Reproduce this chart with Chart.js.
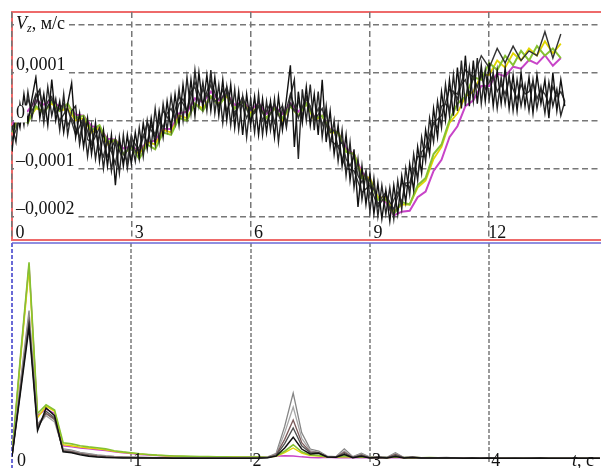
<!DOCTYPE html>
<html>
<head>
<meta charset="utf-8">
<title>Vz</title>
<style>
  html, body { margin: 0; padding: 0; background: #fff; }
  #wrap { position: relative; width: 601px; height: 468px; overflow: hidden; }
  #wrap canvas { position: absolute; left: 0; }
  #chart-speed { top: 0; }
  #chart-spectrum { top: 240px; }
</style>
</head>
<body>
<div id="wrap">
  <canvas id="chart-speed" width="601" height="244"></canvas>
  <canvas id="chart-spectrum" width="601" height="228"></canvas>
</div>

<script src="https://cdn.jsdelivr.net/npm/chart.js@4"></script>
<script>
  // upper panel: Vz records, values in units of 1e-4 m/s
  const FINE_STEP = 0.1;   // s
  const COARSE_STEP = 0.2; // s

  const black1 = [
    -0.65, 0.20, -0.15, 0.55, -0.05, 0.45, 0.90, 0.05, 0.55, -0.10,
    0.85, 0.00, 0.40, -0.25, 0.35, 0.78, -0.35, 0.15, -0.55, 0.05,
    -0.70, -0.05, -0.85, -0.20, -0.95, -0.30, -1.35, -0.35, -0.95, -0.30,
    -0.90, -0.25, -0.80, -0.05, -0.60, 0.05, -0.50, 0.20, -0.35, 0.40,
    -0.20, 0.55, -0.10, 0.75, 0.05, 0.85, 0.10, 1.00, 0.25, 0.95,
    0.20, 0.90, 0.10, 0.85, 0.00, 0.75, -0.15, 0.60, -0.30, 0.55,
    -0.10, 0.50, -0.30, 0.45, -0.25, 0.40, -0.35, 0.50, -0.20, 0.45,
    1.15, -0.55, 0.60, -0.05, 0.70, -0.10, 0.55, -0.30, 0.85, -0.45,
    0.20, -0.70, -0.10, -0.95, -0.30, -1.25, -0.60, -1.80, -0.95, -1.75,
    -1.10, -1.95, -1.30, -2.05, -1.45, -2.10, -1.35, -1.95, -1.15, -1.70,
    -0.90, -1.45, -0.55, -1.10, -0.20, -0.70, 0.25, -0.35, 0.60, 0.00,
    0.85, 0.10, 1.10, 0.25, 1.35, 0.30, 1.25, 0.35, 1.15, 0.40,
    1.20, 0.30, 1.05, 0.35, 1.10, 0.25, 0.95, 0.20, 1.00, 0.30,
    0.90, 0.15, 0.95, 0.35, 0.85, 0.05, 1.00, 0.20, 0.85, 0.30,
  ];
  const black2 = [
    -0.10, -0.45, 0.35, -0.10, 0.60, 0.05, 0.50, 0.65, -0.05, 0.70,
    0.10, 0.45, -0.20, 0.55, -0.30, 0.20, 0.30, -0.50, 0.00, -0.75,
    -0.10, -0.80, -0.25, -1.00, -0.35, -1.05, -0.40, -1.10, -0.30, -1.00,
    -0.45, -0.85, -0.15, -0.75, 0.00, -0.55, 0.25, -0.45, 0.35, -0.20,
    0.50, -0.05, 0.65, 0.00, 0.90, 0.15, 1.05, 0.30, 0.80, 0.20,
    1.05, 0.15, 0.75, -0.05, 0.70, -0.10, 0.65, -0.20, 0.50, -0.35,
    0.45, -0.25, 0.55, -0.30, 0.40, -0.20, 0.45, -0.45, 0.30, -0.15,
    0.50, 0.85, -0.80, 0.65, 0.00, 0.75, -0.20, 0.60, -0.35, 0.30,
    -0.55, 0.00, -0.85, -0.20, -1.15, -0.45, -1.40, -0.80, -1.65, -1.10,
    -1.90, -1.20, -2.00, -1.35, -1.95, -1.40, -2.05, -1.25, -1.85, -1.00,
    -1.55, -0.70, -1.25, -0.35, -0.85, 0.05, -0.45, 0.40, -0.15, 0.75,
    0.10, 0.95, 0.20, 1.25, 0.30, 1.10, 0.40, 1.30, 0.35, 1.05,
    0.45, 1.00, 0.25, 0.90, 0.35, 0.95, 0.20, 0.85, 0.30, 0.75,
    0.20, 0.85, 0.25, 0.70, 0.15, 0.80, 0.30, 0.65, 0.10, 0.40,
  ];
  const black3 = [
    -0.40, -0.20, 0.30, 0.10, 0.45, 0.20, 0.35, 0.60, 0.15, 0.40,
    0.50, 0.15, 0.25, 0.35, -0.10, 0.05, -0.15, -0.35, 0.05, -0.40,
    -0.45, -0.20, -0.60, -0.75, -0.40, -0.65, -0.90, -0.45, -0.70, -0.85,
    -0.30, -0.65, -0.55, -0.30, -0.45, -0.10, -0.30, 0.05, -0.15, 0.15,
    0.25, 0.05, 0.35, 0.45, 0.20, 0.60, 0.70, 0.35, 0.65, 0.50,
    0.75, 0.40, 0.45, 0.65, 0.20, 0.40, 0.15, 0.35, 0.30, 0.05,
    0.25, 0.15, 0.30, 0.00, 0.20, 0.35, -0.05, 0.20, 0.30, -0.05,
    0.35, 0.20, 0.40, 0.10, 0.45, 0.30, 0.05, 0.25, -0.10, 0.15,
    -0.25, -0.20, -0.55, -0.45, -0.80, -0.95, -0.75, -1.15, -1.30, -1.05,
    -1.55, -1.40, -1.75, -1.60, -1.50, -1.85, -1.65, -1.50, -1.70, -1.30,
    -1.30, -1.00, -1.15, -0.65, -0.55, -0.30, -0.05, -0.15, 0.30, 0.35,
    0.25, 0.60, 0.45, 0.75, 0.85, 0.55, 0.90, 0.70, 0.95, 0.65,
    0.80, 0.95, 0.60, 0.75, 0.55, 0.85, 0.65, 0.45, 0.75, 0.55,
    0.60, 0.80, 0.45, 0.65, 0.55, 0.35, 0.70, 0.50, 0.60, 0.40,
  ];
  const upper = [
    -0.20, 0.30, 0.05, 0.55, 0.15, 0.45, 0.00, 0.25, -0.30, 0.05,
    -0.50, -0.15, -0.75, -0.40, -0.85, -0.35, -0.65, -0.05, -0.35, 0.20,
    -0.05, 0.50, 0.20, 0.80, 0.35, 0.85, 0.30, 0.70, 0.10, 0.50,
    0.00, 0.40, -0.05, 0.35, -0.10, 0.55, 0.05, 0.50, 0.00, 0.25,
    -0.40, -0.55, -1.00, -1.05, -1.50, -1.35, -1.80, -1.55, -1.85, -1.30,
    -1.40, -0.75, -0.75, -0.05, 0.10, 0.65, 0.55, 1.05, 0.90, 1.35,
    1.10, 1.50, 1.20, 1.55, 1.25, 1.45, 1.35, 1.85, 1.30, 1.80,
  ];
  const green = [
    -0.25, 0.05, -0.05, 0.30, 0.15, 0.40, 0.20, 0.35, 0.05, 0.10,
    -0.20, -0.10, -0.45, -0.40, -0.70, -0.55, -0.80, -0.50, -0.60, -0.25,
    -0.30, 0.05, 0.00, 0.35, 0.20, 0.50, 0.30, 0.55, 0.25, 0.40,
    0.10, 0.30, 0.05, 0.25, 0.05, 0.30, 0.10, 0.35, 0.05, 0.10,
    -0.20, -0.25, -0.65, -0.70, -1.20, -1.25, -1.65, -1.65, -1.95, -1.70,
    -1.75, -1.35, -1.20, -0.70, -0.50, 0.00, 0.35, 0.50, 0.90, 0.85,
    1.20, 1.05, 1.35, 1.15, 1.45, 1.25, 1.55, 1.35, 1.50, 1.30,
  ];
  const yellow = [
    -0.15, 0.05, 0.00, 0.25, 0.20, 0.35, 0.20, 0.25, 0.00, 0.05,
    -0.25, -0.15, -0.50, -0.40, -0.70, -0.55, -0.70, -0.45, -0.50, -0.20,
    -0.25, 0.10, 0.05, 0.35, 0.25, 0.50, 0.35, 0.50, 0.25, 0.40,
    0.15, 0.30, 0.05, 0.25, 0.00, 0.30, 0.10, 0.35, 0.00, 0.10,
    -0.25, -0.25, -0.65, -0.70, -1.15, -1.20, -1.60, -1.60, -1.90, -1.75,
    -1.75, -1.40, -1.25, -0.80, -0.55, -0.05, 0.15, 0.50, 0.60, 0.95,
    0.95, 1.25, 1.10, 1.40, 1.25, 1.50, 1.35, 1.65, 1.40, 1.60,
  ];
  const magenta = [
    -0.10, 0.15, 0.20, 0.42, 0.33, 0.42, 0.28, 0.32, 0.12, 0.10,
    -0.12, -0.15, -0.38, -0.40, -0.58, -0.55, -0.62, -0.45, -0.42, -0.18,
    -0.18, 0.15, 0.18, 0.46, 0.38, 0.60, 0.42, 0.56, 0.32, 0.40,
    0.22, 0.36, 0.14, 0.30, 0.14, 0.36, 0.18, 0.36, 0.08, 0.10,
    -0.18, -0.25, -0.58, -0.70, -1.08, -1.25, -1.62, -1.70, -1.98, -1.90,
    -1.88, -1.60, -1.48, -1.05, -0.82, -0.35, -0.12, 0.30, 0.42, 0.72,
    0.72, 0.98, 0.92, 1.12, 1.08, 1.26, 1.18, 1.36, 1.14, 1.30,
  ];

  const timeTicks = [0, 3, 6, 9, 12];
  const speedTicks = [1, 0, -1, -2];
  const speedTickLabels = ['0,0001', '0', '–0,0001', '–0,0002'];
  const speedTitleAt = 2;

  // lower panel: amplitude spectra, bin width 1/14
  const FREQ_STEP = 1 / 14;

  const specBlack = [
    1, 31, 61, 13, 23.5, 20, 3.2, 2.8, 1.8, 1.2,
    0.8, 0.6, 0.5, 0.4, 0.4, 0.3, 0.3, 0.3, 0.3, 0.2,
    0.2, 0.2, 0.2, 0.2, 0.2, 0.2, 0.2, 0.2, 0.2, 0.3,
    0.5, 1.2, 5, 10, 4.5, 2.2, 2.5, 0.8, 0.7, 2,
    0.5, 1.2, 0.4, 0.6, 0.4, 1, 0.4, 0.6, 0.3, 0.3,
    0.3, 0.4, 0.3, 0.2, 0.3, 0.2, 0.3, 0.2, 0.2, 0.2,
    0.2, 0.2, 0.3, 0.2, 0.2, 0.2, 0.2, 0.2, 0.2, 0.2,
  ];
  const specDark = [
    1, 32, 63, 14, 22, 19, 3.5, 3, 2.1, 1.5,
    1, 0.8, 0.6, 0.5, 0.5, 0.4, 0.4, 0.3, 0.3, 0.3,
    0.3, 0.3, 0.2, 0.2, 0.2, 0.2, 0.2, 0.2, 0.2, 0.3,
    0.5, 1.5, 7, 14.3, 6, 2.8, 2.6, 0.8, 0.7, 2.5,
    0.6, 1.5, 0.4, 0.6, 0.4, 1.6, 0.4, 0.6, 0.3, 0.3,
    0.3, 0.4, 0.3, 0.3, 0.3, 0.3, 0.3, 0.2, 0.2, 0.3,
    0.2, 0.3, 0.2, 0.2, 0.2, 0.2, 0.2, 0.2, 0.2, 0.2,
  ];
  const specBrown = [
    1, 33, 64, 15, 21, 18.5, 3.8, 3.3, 2.4, 1.8,
    1.3, 1, 0.8, 0.7, 0.6, 0.5, 0.5, 0.4, 0.4, 0.3,
    0.3, 0.3, 0.3, 0.3, 0.3, 0.3, 0.3, 0.3, 0.3, 0.4,
    0.6, 1.8, 9, 18, 7.5, 3.2, 2.8, 0.9, 0.8, 3,
    0.7, 1.8, 0.5, 0.7, 0.5, 2, 0.5, 0.7, 0.4, 0.4,
    0.4, 0.4, 0.3, 0.4, 0.3, 0.3, 0.3, 0.3, 0.3, 0.3,
    0.3, 0.3, 0.3, 0.3, 0.3, 0.3, 0.3, 0.3, 0.3, 0.3,
  ];
  const specLight = [
    1.1, 34, 65.4, 15, 20, 17, 4.2, 3.6, 2.7, 2.1,
    1.6, 1.2, 1, 0.8, 0.7, 0.6, 0.5, 0.5, 0.4, 0.4,
    0.4, 0.4, 0.4, 0.3, 0.3, 0.3, 0.3, 0.3, 0.3, 0.4,
    0.7, 2, 12, 24, 9.5, 3.8, 3, 1, 0.9, 3.6,
    0.8, 2.2, 0.6, 0.8, 0.6, 2.4, 0.5, 0.8, 0.4, 0.4,
    0.4, 0.5, 0.4, 0.4, 0.3, 0.4, 0.4, 0.3, 0.3, 0.3,
    0.3, 0.3, 0.3, 0.3, 0.3, 0.3, 0.3, 0.3, 0.3, 0.3,
  ];
  const specGray = [
    1.2, 36, 68.7, 16, 21, 18, 4.6, 4, 3, 2.4,
    1.8, 1.4, 1.1, 0.9, 0.8, 0.7, 0.6, 0.5, 0.5, 0.4,
    0.4, 0.4, 0.4, 0.4, 0.4, 0.4, 0.4, 0.4, 0.4, 0.5,
    0.8, 2.5, 15, 30.4, 12, 4.5, 3.5, 1.2, 1, 4.6,
    1, 2.6, 0.8, 1, 0.7, 2.8, 0.6, 1, 0.5, 0.5,
    0.5, 0.6, 0.4, 0.5, 0.4, 0.4, 0.5, 0.4, 0.3, 0.4,
    0.3, 0.4, 0.3, 0.3, 0.3, 0.3, 0.3, 0.3, 0.3, 0.3,
  ];
  const specGreen = [
    2, 48, 91, 21, 25, 22.6, 7.4, 6.9, 6, 5.5,
    5.1, 4.6, 3.7, 3.2, 2.8, 2.3, 2, 1.7, 1.5, 1.3,
    1.2, 1.1, 1, 1, 0.9, 0.9, 0.8, 0.8, 0.8, 0.8,
    0.9, 1.3, 3.5, 6.5, 3.2, 1.8, 1.5, 0.9, 0.8, 1.2,
    0.8, 1, 0.7, 0.8, 0.6, 1, 0.6, 0.7, 0.5, 0.6,
    0.5, 0.5, 0.4, 0.5, 0.4, 0.4, 0.4, 0.5, 0.4, 0.3,
    0.4, 0.3, 0.3, 0.4, 0.3, 0.3, 0.3, 0.3, 0.3, 0.3,
  ];
  const specYellow = [
    1.5, 46, 88, 19, 24.4, 22, 6.5, 6, 5.4, 5,
    4.6, 4.2, 3.4, 3, 2.6, 2.2, 1.9, 1.6, 1.4, 1.2,
    1.1, 1, 0.9, 0.9, 0.8, 0.8, 0.8, 0.7, 0.7, 0.7,
    0.8, 1.1, 2.8, 5, 2.6, 1.5, 1.3, 0.8, 0.7, 1,
    0.7, 0.9, 0.6, 0.7, 0.5, 0.9, 0.5, 0.6, 0.5, 0.5,
    0.4, 0.5, 0.4, 0.4, 0.4, 0.3, 0.4, 0.4, 0.3, 0.3,
    0.3, 0.3, 0.3, 0.3, 0.3, 0.3, 0.2, 0.3, 0.2, 0.2,
  ];
  const specMagenta = [
    2, 47, 90, 20, 23, 21, 6, 5.5, 5, 4.6,
    4.2, 3.8, 3.2, 2.8, 2.4, 2, 1.7, 1.5, 1.3, 1.2,
    1, 1, 0.9, 0.8, 0.8, 0.8, 0.7, 0.7, 0.7, 0.8,
    1, 1.2, 1.4, 1.3, 0.9, 0.6, 0.5, 0.7, 0.5, 0.6,
    0.4, 0.5, 0.4, 0.5, 0.4, 0.6, 0.4, 0.4, 0.3, 0.4,
    0.3, 0.3, 0.3, 0.3, 0.3, 0.3, 0.3, 0.3, 0.2, 0.3,
    0.2, 0.2, 0.2, 0.3, 0.2, 0.2, 0.2, 0.2, 0.2, 0.2,
  ];

  const spectrumTicks = [0, 1, 2, 3, 4];

  const SERIF = '"Liberation Serif", "Times New Roman", serif';
  const RED = '#ee6a6a';
  const BLUE = '#6a6ad6';

  const toPoints = (values, step) => values.map((v, i) => ({ x: i * step, y: v }));

  const line = (values, step, color, width) => ({
    data: toPoints(values, step),
    borderColor: color,
    borderWidth: width,
    pointRadius: 0,
    tension: 0,
  });

  // no tick labels and no tick marks, so the axes take no room
  const hiddenTicks = { display: false, includeBounds: false };

  // red frame sits under the dashed grid, labels go over the traces
  const speedFrame = {
    id: 'speedFrame',
    beforeDraw(chart) {
      const { ctx, chartArea: a } = chart;
      ctx.save();
      ctx.strokeStyle = RED;
      ctx.lineWidth = 2;
      ctx.beginPath();
      ctx.moveTo(chart.width, a.top);
      ctx.lineTo(a.left, a.top);
      ctx.lineTo(a.left, a.bottom);
      ctx.lineTo(chart.width, a.bottom);
      ctx.stroke();
      ctx.restore();
    },
    afterDatasetsDraw(chart) {
      const { ctx, chartArea: a, scales } = chart;
      ctx.save();
      ctx.font = `18px ${SERIF}`;
      ctx.textBaseline = 'alphabetic';

      speedTicks.forEach((v, i) => {
        const text = speedTickLabels[i];
        const y = scales.y.getPixelForValue(v) - 2;
        const w = ctx.measureText(text).width;
        ctx.fillStyle = '#fff';
        ctx.fillRect(a.left + 2, y - 13, w + 4, 17);
        ctx.fillStyle = '#111';
        ctx.fillText(text, a.left + 4, y);
      });

      // V_z, м/с
      const ty = scales.y.getPixelForValue(speedTitleAt) + 5;
      let x = a.left + 4;
      ctx.fillStyle = '#fff';
      ctx.fillRect(a.left + 2, ty - 14, 54, 20);
      ctx.fillStyle = '#111';
      ctx.font = `italic 18px ${SERIF}`;
      ctx.fillText('V', x, ty);
      x += ctx.measureText('V').width;
      ctx.font = `italic 12px ${SERIF}`;
      ctx.fillText('z', x, ty + 3);
      x += ctx.measureText('z').width;
      ctx.font = `18px ${SERIF}`;
      ctx.fillText(', м/с', x, ty);

      ctx.textAlign = 'center';
      timeTicks.forEach((t) => {
        ctx.fillText(String(t), scales.x.getPixelForValue(t) + 8, a.bottom - 2);
      });
      ctx.restore();
    },
  };

  const spectrumFrame = {
    id: 'spectrumFrame',
    beforeDatasetsDraw(chart) {
      const { ctx, chartArea: a } = chart;
      ctx.save();
      ctx.strokeStyle = BLUE;
      ctx.lineWidth = 1.5;
      ctx.beginPath();
      ctx.moveTo(a.left, a.top);
      ctx.lineTo(chart.width, a.top);
      ctx.stroke();
      ctx.setLineDash([4, 2]);
      ctx.lineWidth = 2;
      ctx.beginPath();
      ctx.moveTo(a.left, a.top);
      ctx.lineTo(a.left, chart.height);
      ctx.stroke();
      ctx.restore();
    },
    afterDatasetsDraw(chart) {
      const { ctx, scales } = chart;
      const base = chart.height - 2;
      ctx.save();
      ctx.fillStyle = '#111';
      ctx.font = `18px ${SERIF}`;
      ctx.textBaseline = 'alphabetic';
      spectrumTicks.forEach((f) => {
        ctx.fillText(String(f), scales.x.getPixelForValue(f) + (f === 0 ? 5 : 2), base);
      });
      let x = 572;
      ctx.font = `italic 18px ${SERIF}`;
      ctx.fillText('t', x, base);
      x += ctx.measureText('t').width;
      ctx.font = `18px ${SERIF}`;
      ctx.fillText(', с', x, base);
      ctx.restore();
    },
  };

  const common = {
    responsive: false,
    animation: false,
    devicePixelRatio: 1,
    plugins: { legend: { display: false }, tooltip: { enabled: false } },
  };

  new Chart(document.getElementById('chart-speed'), {
    type: 'line',
    data: {
      datasets: [
        line(black1, FINE_STEP, '#111111', 1.4),
        line(black2, FINE_STEP, '#262626', 1.4),
        line(black3, FINE_STEP, '#3a3a3a', 1.4),
        line(upper, COARSE_STEP, '#333333', 1.4),
        line(green, COARSE_STEP, '#86c232', 2),
        line(yellow, COARSE_STEP, '#e2d600', 1.8),
        line(magenta, COARSE_STEP, '#c844c8', 2),
      ],
    },
    options: {
      ...common,
      layout: { padding: { left: 12, top: 12, right: 1, bottom: 4 } },
      scales: {
        x: {
          type: 'linear',
          min: 0,
          max: 14.785,
          ticks: { ...hiddenTicks, stepSize: 3 },
          grid: { color: '#777', lineWidth: 1.5, drawTicks: false },
          border: { display: false, dash: [6, 3.5] },
        },
        y: {
          type: 'linear',
          min: -2.49,
          max: 2.26,
          ticks: { ...hiddenTicks, stepSize: 1 },
          grid: { color: '#777', lineWidth: 1.5, drawTicks: false },
          border: { display: false, dash: [6, 3.5] },
        },
      },
    },
    plugins: [speedFrame],
  });

  new Chart(document.getElementById('chart-spectrum'), {
    type: 'line',
    data: {
      datasets: [
        line(specBlack, FREQ_STEP, '#111111', 1.5),
        line(specDark, FREQ_STEP, '#4e4e4e', 1.3),
        line(specBrown, FREQ_STEP, '#7a5a5a', 1.3),
        line(specLight, FREQ_STEP, '#a6a6a6', 1.3),
        line(specGray, FREQ_STEP, '#858585', 1.3),
        line(specGreen, FREQ_STEP, '#86c232', 1.6),
        line(specYellow, FREQ_STEP, '#e2d600', 1.4),
        line(specMagenta, FREQ_STEP, '#c844c8', 1.4),
      ],
    },
    options: {
      ...common,
      layout: { padding: { left: 12, top: 3, right: 1, bottom: 6 } },
      scales: {
        x: {
          type: 'linear',
          min: 0,
          max: 4.929,
          ticks: { ...hiddenTicks, stepSize: 1 },
          grid: {
            color: (c) => (c.tick && c.tick.value === 0 ? 'rgba(0,0,0,0)' : '#9a9a9a'),
            lineWidth: 2,
            drawTicks: false,
          },
          border: { display: false, dash: [4, 2] },
        },
        y: {
          type: 'linear',
          min: -1.5,
          max: 100,
          ticks: hiddenTicks,
          grid: { display: false, drawTicks: false },
          border: { display: false },
        },
      },
    },
    plugins: [spectrumFrame],
  });
</script>
</body>
</html>
